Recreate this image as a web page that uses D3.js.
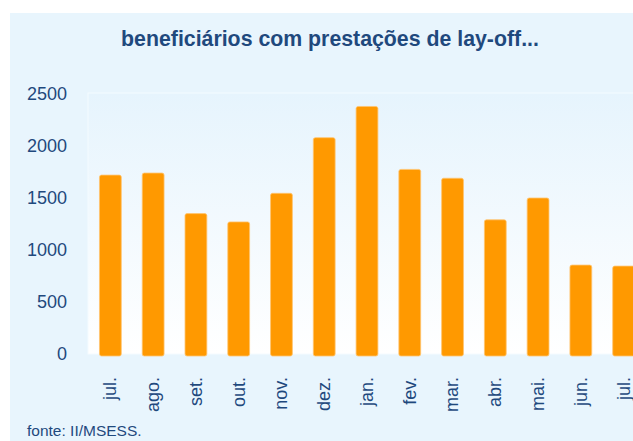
<!DOCTYPE html>
<html>
<head>
<meta charset="utf-8">
<script src="https://cdn.jsdelivr.net/npm/d3@7"></script>
<style>
  html, body { margin: 0; padding: 0; background: #ffffff; }
  svg { display: block; }
</style>
</head>
<body>
<div id="chart"></div>
<script>
// data
const months = ["jul.", "ago.", "set.", "out.", "nov.", "dez.", "jan.", "fev.", "mar.", "abr.", "mai.", "jun.", "jul. "];
const beneficiarios = [1720, 1740, 1350, 1270, 1545, 2080, 2380, 1775, 1690, 1290, 1500, 855, 845];
const yTicks = [0, 500, 1000, 1500, 2000, 2500];

const W = 633, H = 441;
const textCol = "#1f497d";
const font = "'Liberation Sans', Arial, sans-serif";

const svg = d3.select("#chart").append("svg")
	.attr("width", W)
	.attr("height", H);

const defs = svg.append("defs");
const grad = defs.append("linearGradient")
	.attr("id", "plotGrad")
	.attr("x1", 0).attr("y1", 0)
	.attr("x2", 0).attr("y2", 1);
grad.append("stop").attr("offset", "0%").attr("stop-color", "#e6f4fd");
grad.append("stop").attr("offset", "100%").attr("stop-color", "#ffffff");

// outer light blue panel
svg.append("rect")
	.attr("x", 10).attr("y", 13)
	.attr("width", W - 10).attr("height", H - 13)
	.attr("fill", "#e8f5fd");

const plot = {left: 88, top: 93, bottom: 354, right: 645};

const x = d3.scaleBand()
	.domain(months)
	.range([plot.left + 1, plot.right])
	.paddingInner(0.49)
	.paddingOuter(0.245);

const y = d3.scaleLinear()
	.domain([0, 2500])
	.range([plot.bottom, plot.top + 1]);

// plot area
svg.append("rect")
	.attr("x", plot.left).attr("y", plot.top)
	.attr("width", plot.right - plot.left).attr("height", plot.bottom - plot.top)
	.attr("fill", "url(#plotGrad)")
	.attr("stroke", "#f4fbff")
	.attr("stroke-width", 1);

// title
svg.append("text")
	.attr("x", 330).attr("y", 46)
	.attr("text-anchor", "middle")
	.style("font-family", font)
	.style("font-weight", "bold")
	.style("font-size", "21.3px")
	.style("fill", textCol)
	.text("beneficiários com prestações de lay-off...");

// bars
svg.append("g").selectAll("rect")
	.data(beneficiarios)
	.join("rect")
	.attr("x", (d, i) => x(months[i]))
	.attr("y", d => y(d))
	.attr("width", x.bandwidth())
	.attr("height", d => y(0) - y(d) + 2)
	.attr("rx", 2)
	.attr("fill", "#ff9900")
	.attr("stroke", "#ffc46e")
	.attr("stroke-width", 0.8);

// y axis (labels only)
const yAxis = svg.append("g")
	.attr("transform", "translate(67,0)")
	.call(d3.axisLeft(y).tickValues(yTicks).tickFormat(d3.format("d")).tickSize(0).tickPadding(0));
yAxis.select(".domain").remove();
yAxis.selectAll("text")
	.style("font-family", font)
	.style("font-size", "18px")
	.style("fill", textCol);

// x axis (rotated labels only)
const xAxis = svg.append("g")
	.attr("transform", "translate(0,377)")
	.call(d3.axisBottom(x).tickSize(0).tickPadding(0));
xAxis.select(".domain").remove();
xAxis.selectAll("text")
	.attr("transform", "rotate(-90)")
	.attr("text-anchor", "end")
	.attr("x", 0)
	.attr("y", 0)
	.attr("dy", "0.33em")
	.text(d => d.trim())
	.style("font-family", font)
	.style("font-size", "18px")
	.style("fill", textCol);

// source note
svg.append("text")
	.attr("x", 27).attr("y", 436)
	.style("font-family", font)
	.style("font-size", "15.5px")
	.style("fill", textCol)
	.text("fonte: II/MSESS.");
</script>
</body>
</html>
